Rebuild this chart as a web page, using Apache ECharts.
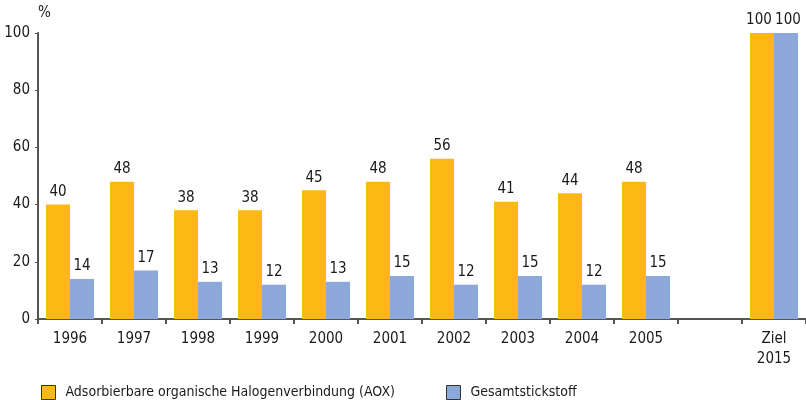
<!DOCTYPE html>
<html>
<head>
<meta charset="utf-8">
<script src="https://cdn.jsdelivr.net/npm/echarts@6/dist/echarts.min.js"></script>
<style>
  html, body { margin: 0; padding: 0; background: #fff; }
  #chart { width: 806px; height: 400px; }
</style>
</head>
<body>
<div id="chart"></div>
<script>
// categories and values
var categories = ['1996', '1997', '1998', '1999', '2000', '2001', '2002', '2003', '2004', '2005', '', 'Ziel\n2015'];
var aox = [40, 48, 38, 38, 45, 48, 56, 41, 44, 48, null, 100];
var stickstoff = [14, 17, 13, 12, 13, 15, 12, 15, 12, 15, null, 100];
var yTicks = [0, 20, 40, 60, 80, 100];

var font = "'Liberation Sans Narrow', 'DejaVu Sans Condensed', sans-serif";
var axisColor = '#555';

var chart = echarts.init(document.getElementById('chart'));

function labelStyle(dx) {
  return {
    show: true,
    position: 'top',
    distance: 5,
    offset: [dx, 0],
    color: '#1a1a1a',
    fontSize: 15,
    fontFamily: font
  };
}

// the two "100" labels sit a little apart in the original
var aoxData = aox.map(function (v, i) {
  return i === aox.length - 1 ? { value: v, label: labelStyle(-3) } : v;
});
var stData = stickstoff.map(function (v, i) {
  return i === stickstoff.length - 1 ? { value: v, label: labelStyle(2) } : v;
});

var legendText = { fontFamily: font, fontSize: 14, color: '#1a1a1a', padding: [0, 0, 0, 5] };

chart.setOption({
  animation: false,
  textStyle: { fontFamily: font },
  grid: { left: 38, right: 0, top: 33, bottom: 81 },
  legend: [
    {
      data: [{ name: 'Adsorbierbare organische Halogenverbindung (AOX)', icon: 'rect' }],
      left: 36, top: 380,
      itemWidth: 14, itemHeight: 14,
      textStyle: legendText,
      itemStyle: { borderColor: '#333', borderWidth: 1 }
    },
    {
      data: [{ name: 'Gesamtstickstoff', icon: 'rect' }],
      left: 441, top: 380,
      itemWidth: 14, itemHeight: 14,
      textStyle: legendText,
      itemStyle: { borderColor: '#333', borderWidth: 1 }
    }
  ],
  xAxis: {
    type: 'category',
    data: categories,
    axisLine: { lineStyle: { color: axisColor, width: 2 } },
    axisTick: { show: true, length: 5, lineStyle: { color: axisColor, width: 2 } },
    axisLabel: { color: '#1a1a1a', fontSize: 15, margin: 10, lineHeight: 20, fontFamily: font }
  },
  yAxis: {
    type: 'value',
    min: yTicks[0],
    max: yTicks[yTicks.length - 1],
    interval: 20,
    name: '%',
    nameLocation: 'end',
    nameGap: 12,
    nameTextStyle: { color: '#1a1a1a', fontSize: 15, fontFamily: font, align: 'left' },
    splitLine: { show: false },
    axisLine: { show: true, lineStyle: { color: axisColor, width: 2 } },
    axisTick: { show: true, length: 3, lineStyle: { color: axisColor, width: 1 } },
    axisLabel: { color: '#1a1a1a', fontSize: 15, margin: 8, fontFamily: font }
  },
  series: [
    {
      name: 'Adsorbierbare organische Halogenverbindung (AOX)',
      type: 'bar',
      data: aoxData,
      barWidth: 24,
      barGap: '0%',
      itemStyle: { color: '#FDB813' },
      label: labelStyle(0)
    },
    {
      name: 'Gesamtstickstoff',
      type: 'bar',
      data: stData,
      barWidth: 24,
      barGap: '0%',
      itemStyle: { color: '#8CA9D9' },
      label: labelStyle(0)
    }
  ]
});
</script>
</body>
</html>
